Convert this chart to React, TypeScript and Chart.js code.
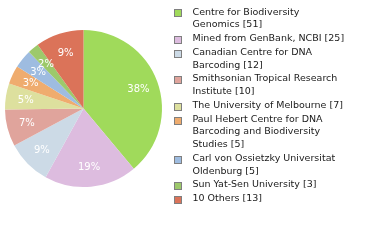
import React, { useEffect, useRef } from "react";
import { Chart, registerables } from "chart.js";

Chart.register(...registerables);

const categories = [
  "Centre for Biodiversity Genomics",
  "Mined from GenBank, NCBI",
  "Canadian Centre for DNA Barcoding",
  "Smithsonian Tropical Research Institute",
  "The University of Melbourne",
  "Paul Hebert Centre for DNA Barcoding and Biodiversity Studies",
  "Carl von Ossietzky Universitat Oldenburg",
  "Sun Yat-Sen University",
  "10 Others",
];
const counts = [51, 25, 12, 10, 7, 5, 5, 3, 13];
const colors = [
  "#a0da5b",
  "#ddbcdf",
  "#ccdae6",
  "#e0a49c",
  "#dde09e",
  "#efac6e",
  "#9ebce0",
  "#9dc96b",
  "#db7359",
];

const LEGEND_FONT = "9.5px 'DejaVu Sans'";
const LABEL_FONT = "10px 'DejaVu Sans'";

function wrap(ctx: CanvasRenderingContext2D, text: string, maxW: number): string[] {
  const words = text.split(" ");
  const lines: string[] = [];
  let cur = "";
  for (const w of words) {
    const t = cur ? cur + " " + w : w;
    if (cur && ctx.measureText(t).width > maxW) {
      lines.push(cur);
      cur = w;
    } else cur = t;
  }
  if (cur) lines.push(cur);
  return lines;
}

const sliceLabels = {
  id: "sliceLabels",
  afterDatasetsDraw(chart: any) {
    const ctx = chart.ctx;
    const meta = chart.getDatasetMeta(0);
    const data = chart.data.datasets[0].data as number[];
    const total = data.reduce((a, b) => a + b, 0);
    ctx.save();
    ctx.font = LABEL_FONT;
    ctx.fillStyle = "#ffffff";
    ctx.textAlign = "center";
    ctx.textBaseline = "middle";
    meta.data.forEach((arc: any, i: number) => {
      const p = arc.getProps(["x", "y", "startAngle", "endAngle", "outerRadius"], true);
      const mid = (p.startAngle + p.endAngle) / 2;
      const r = p.outerRadius * 0.745;
      const pct = Math.floor((data[i] / total) * 100);
      ctx.fillText(pct + "%", p.x + Math.cos(mid) * r, p.y + Math.sin(mid) * r + 0.5);
    });
    ctx.restore();
  },
};

const sideLegend = {
  id: "sideLegend",
  afterDraw(chart: any) {
    const ctx = chart.ctx;
    ctx.save();
    ctx.font = LEGEND_FONT;
    ctx.textBaseline = "alphabetic";
    ctx.textAlign = "left";
    const lineStep = 12.6;
    const gap = 1.3;
    let top = 6.7;
    categories.forEach((name, i) => {
      const lines = wrap(ctx, `${name} [${counts[i]}]`, 154.5);
      const by = Math.round(top + 2.5);
      ctx.fillStyle = colors[i];
      ctx.fillRect(174, by, 8, 8);
      ctx.strokeStyle = "#7f7f7f";
      ctx.lineWidth = 1;
      ctx.strokeRect(174.5, by + 0.5, 7, 7);
      ctx.fillStyle = "#1a1a1a";
      lines.forEach((ln, j) => {
        ctx.fillText(ln, 192.5, top + 7.8 + j * lineStep);
      });
      top += lines.length * lineStep + gap;
    });
    ctx.restore();
  },
};

export default function App() {
  const ref = useRef<HTMLCanvasElement | null>(null);
  useEffect(() => {
    if (!ref.current) return;
    const chart = new Chart(ref.current, {
      type: "pie",
      data: {
        labels: categories,
        datasets: [
          {
            data: counts,
            backgroundColor: colors,
            borderWidth: 0,
          },
        ],
      },
      options: {
        responsive: false,
        animation: false,
        events: [],
        layout: { padding: { left: 5, top: 30, right: 218, bottom: 53 } },
        plugins: {
          legend: { display: false },
          tooltip: { enabled: false },
        },
      },
      plugins: [sliceLabels, sideLegend],
    });
    return () => chart.destroy();
  }, []);
  return (
    <div style={{ position: "absolute", left: 0, top: 0, width: 380, height: 240, background: "#fff" }}>
      <canvas ref={ref} width={380} height={240} style={{ display: "block", width: 380, height: 240 }} />
    </div>
  );
}
